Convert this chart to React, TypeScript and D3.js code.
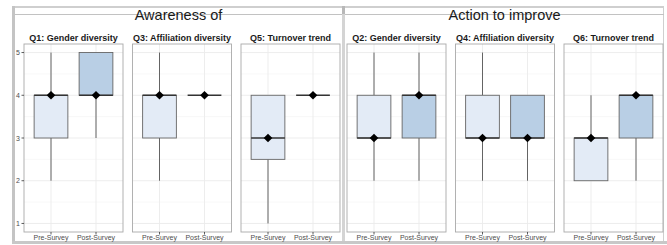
import React from 'react';
import * as d3 from 'd3';

// facet titles, in left-to-right order
const questions = [
  'Q1: Gender diversity',
  'Q3: Affiliation diversity',
  'Q5: Turnover trend',
  'Q2: Gender diversity',
  'Q4: Affiliation diversity',
  'Q6: Turnover trend'
];
const groups = ['Awareness of', 'Action to improve'];
const surveys = ['Pre-Survey', 'Post-Survey'];
const yTicks = [1, 2, 3, 4, 5];

// [lower whisker, q1, median, q3, upper whisker]
const preStats = [
  [2, 3, 4, 4, 5],
  [2, 3, 4, 4, 5],
  [1, 2.5, 3, 4, 4],
  [2, 3, 3, 4, 5],
  [2, 3, 3, 4, 5],
  [2, 2, 3, 3, 4]
];
const postStats = [
  [3, 4, 4, 5, 5],
  [4, 4, 4, 4, 4],
  [4, 4, 4, 4, 4],
  [2, 3, 4, 4, 5],
  [2, 3, 3, 4, 4],
  [2, 3, 4, 4, 4]
];
const preMarker = [4, 4, 3, 3, 3, 3];
const postMarker = [4, 4, 4, 4, 3, 4];

const W = 667;
const H = 245;
const font = 'Liberation Sans, Arial, Helvetica, sans-serif';
const fills = ['#e3ebf6', '#b9cfe5'];

const facetLeft = [24, 132.5, 241, 347, 455.5, 564];
const facetW = 99;
const panelTop = 44;
const panelBottom = 232;

const y = d3.scaleLinear().domain([0.8, 5.2]).range([panelBottom, panelTop]);
const diamond = d3.symbol(d3.symbolDiamond2, 48)();

const Facet = ({ i }: { i: number }) => {
  const x0 = facetLeft[i];
  const x = d3.scalePoint().domain(surveys).range([x0, x0 + facetW]).padding(0.6);
  const bw = x.step() * 0.75;
  const stats = [preStats[i], postStats[i]];
  const markers = [preMarker[i], postMarker[i]];
  const minor = d3.range(1.5, 5, 1);
  return (
    <g>
      <text x={x0 + facetW / 2} y={41} textAnchor="middle" fontSize={9} fontWeight="bold" fill="#1a1a1a">
        {questions[i]}
      </text>
      {minor.map(v => (
        <line key={'m' + v} x1={x0} x2={x0 + facetW} y1={y(v)} y2={y(v)} stroke="#f4f4f4" strokeWidth={0.6} />
      ))}
      {yTicks.map(v => (
        <line key={'g' + v} x1={x0} x2={x0 + facetW} y1={y(v)} y2={y(v)} stroke="#ebebeb" strokeWidth={0.9} />
      ))}
      {surveys.map(s => (
        <line key={'gx' + s} x1={x(s)} x2={x(s)} y1={panelTop} y2={panelBottom} stroke="#ebebeb" strokeWidth={0.9} />
      ))}
      {surveys.map((s, j) => {
        const [lo, q1, med, q3, hi] = stats[j];
        const cx = x(s)!;
        return (
          <g key={s}>
            <line x1={cx} x2={cx} y1={y(q3)} y2={y(hi)} stroke="#555" strokeWidth={0.9} />
            <line x1={cx} x2={cx} y1={y(q1)} y2={y(lo)} stroke="#555" strokeWidth={0.9} />
            <rect x={cx - bw / 2} y={y(q3)} width={bw} height={y(q1) - y(q3)} fill={fills[j]} stroke="#666" strokeWidth={0.9} />
            <line x1={cx - bw / 2} x2={cx + bw / 2} y1={y(med)} y2={y(med)} stroke="#333" strokeWidth={1.6} />
            <path d={diamond!} transform={`translate(${cx},${y(markers[j])})`} fill="#000" />
          </g>
        );
      })}
      <rect x={x0} y={panelTop} width={facetW} height={panelBottom - panelTop} fill="none" stroke="#a9a9a9" strokeWidth={0.9} />
      {surveys.map(s => (
        <g key={'t' + s}>
          <line x1={x(s)} x2={x(s)} y1={panelBottom} y2={panelBottom + 2.5} stroke="#333" strokeWidth={0.8} />
          <text x={x(s)} y={239.5} textAnchor="middle" fontSize={7} fill="#4d4d4d">{s}</text>
        </g>
      ))}
      {i === 0 &&
        yTicks.map(v => (
          <g key={'yt' + v}>
            <line x1={x0 - 2.5} x2={x0} y1={y(v)} y2={y(v)} stroke="#333" strokeWidth={0.8} />
            <text x={x0 - 4} y={y(v) + 2.5} textAnchor="end" fontSize={7} fill="#4d4d4d">{v}</text>
          </g>
        ))}
    </g>
  );
};

export default function App() {
  const panels = [
    { x1: 15, x2: 342 },
    { x1: 345, x2: 664 }
  ];
  return (
    <svg width={W} height={H} style={{ position: 'absolute', left: 0, top: 0, background: '#fff' }} fontFamily={font}>
      {/* outer frame */}
      <rect x={12} y={6} width={652} height={2} fill="#cfcfcf" />
      <rect x={12} y={6} width={3} height={238} fill="#c4c4c4" />
      <rect x={12} y={241} width={655} height={3} fill="#c8c8c8" />
      <rect x={342} y={6} width={3} height={235} fill="#d4d4d4" />
      <rect x={342} y={6} width={3} height={8} fill="#b8b8b8" />
      <rect x={663} y={6} width={1} height={235} fill="#cfcfcf" />
      {panels.map((p, k) => (
        <g key={k}>
          <line x1={p.x1} x2={p.x2} y1={14.5} y2={14.5} stroke="#c2c2c2" strokeWidth={1} />
          <text x={(p.x1 + p.x2) / 2} y={19.5} textAnchor="middle" fontSize={14.5} fill="#1a1a1a">
            {groups[k]}
          </text>
        </g>
      ))}
      {questions.map((_, i) => <Facet key={i} i={i} />)}
    </svg>
  );
}
